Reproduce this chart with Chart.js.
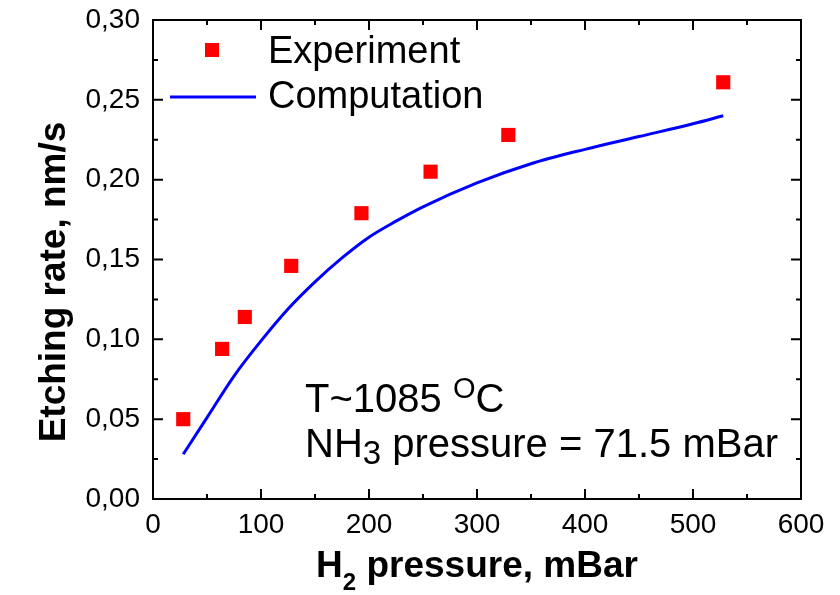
<!DOCTYPE html>
<html>
<head>
<meta charset="utf-8">
<script src="https://cdn.jsdelivr.net/npm/chart.js@4.4.1/dist/chart.umd.min.js"></script>
<style>
  html, body { margin: 0; padding: 0; background: #fff; }
  #wrap { width: 840px; height: 595px; position: relative; }
</style>
</head>
<body>
<div id="wrap"><canvas id="c" width="840" height="595"></canvas></div>
<script>
// ---- Data ----
const expPressure = [28, 64, 85, 128, 193, 257, 329, 528];
const expRate     = [0.050, 0.094, 0.114, 0.146, 0.179, 0.205, 0.228, 0.261];

const compPressure = [28, 50, 75, 100, 125, 150, 175, 200, 225, 250, 300, 350, 400, 450, 500, 528];
const compRate     = [0.028, 0.051, 0.077, 0.099, 0.119, 0.136, 0.151, 0.164, 0.174, 0.183, 0.198, 0.210, 0.219, 0.227, 0.235, 0.240];

const xTicks = [0, 100, 200, 300, 400, 500, 600];
const yTicks = [0.00, 0.05, 0.10, 0.15, 0.20, 0.25, 0.30];

const seriesLabels = ['Experiment', 'Computation'];
const xTitleMain = 'H';
const xTitleSub = '2';
const xTitleRest = ' pressure, mBar';
const yTitle = 'Etching rate, nm/s';
const annoLine1 = ['T~1085 ', 'O', 'C'];
const annoLine2 = ['NH', '3', ' pressure = 71.5 mBar'];

const FONT = '"Liberation Sans", Arial, Helvetica, sans-serif';

const toPts = (xs, ys) => xs.map((x, i) => ({ x, y: ys[i] }));

const framePlugin = {
  id: 'frame',
  afterDraw(chart) {
    const ctx = chart.ctx;
    const xs = chart.scales.x, ys = chart.scales.y;
    const L = xs.left, R = xs.right, T = ys.top, B = ys.bottom;
    ctx.save();
    ctx.strokeStyle = '#000';
    ctx.lineWidth = 2;
    ctx.strokeRect(L, T, R - L, B - T);
    // ticks (inward, all four sides)
    const major = 10, minor = 5;
    ctx.beginPath();
    for (let i = 0; i < xTicks.length; i++) {
      const px = xs.getPixelForValue(xTicks[i]);
      ctx.moveTo(px, B); ctx.lineTo(px, B - major);
      ctx.moveTo(px, T); ctx.lineTo(px, T + major);
      if (i < xTicks.length - 1) {
        const pm = xs.getPixelForValue((xTicks[i] + xTicks[i + 1]) / 2);
        ctx.moveTo(pm, B); ctx.lineTo(pm, B - minor);
        ctx.moveTo(pm, T); ctx.lineTo(pm, T + minor);
      }
    }
    for (let i = 0; i < yTicks.length; i++) {
      const py = ys.getPixelForValue(yTicks[i]);
      ctx.moveTo(L, py); ctx.lineTo(L + major, py);
      ctx.moveTo(R, py); ctx.lineTo(R - major, py);
      if (i < yTicks.length - 1) {
        const pm = ys.getPixelForValue((yTicks[i] + yTicks[i + 1]) / 2);
        ctx.moveTo(L, pm); ctx.lineTo(L + minor, pm);
        ctx.moveTo(R, pm); ctx.lineTo(R - minor, pm);
      }
    }
    ctx.stroke();

    ctx.textBaseline = 'alphabetic';

    // Legend
    const ds = chart.data.datasets;
    ctx.fillStyle = ds[0].backgroundColor;
    ctx.fillRect(205, 43, 14, 14);
    ctx.strokeStyle = ds[1].borderColor;
    ctx.lineWidth = 3;
    ctx.beginPath(); ctx.moveTo(170, 97); ctx.lineTo(256, 97); ctx.stroke();
    ctx.fillStyle = '#000';
    ctx.font = '38px ' + FONT;
    ctx.textAlign = 'left';
    ctx.fillText(ds[0].label, 268, 63);
    ctx.fillText(ds[1].label, 268, 108);

    // Annotation
    ctx.font = '40px ' + FONT;
    let x = 305;
    ctx.fillText(annoLine1[0], x, 412);
    x += ctx.measureText(annoLine1[0]).width;
    ctx.font = '29px ' + FONT;
    ctx.fillText(annoLine1[1], x, 398);
    x += ctx.measureText(annoLine1[1]).width;
    ctx.font = '40px ' + FONT;
    ctx.fillText(annoLine1[2], x, 412);

    x = 305;
    ctx.fillText(annoLine2[0], x, 457);
    x += ctx.measureText(annoLine2[0]).width;
    ctx.font = '33px ' + FONT;
    ctx.fillText(annoLine2[1], x, 464);
    x += ctx.measureText(annoLine2[1]).width;
    ctx.font = '40px ' + FONT;
    ctx.fillText(annoLine2[2], x, 457);

    // X title with subscript
    const bigF = 'bold 37px ' + FONT, subF = 'bold 24px ' + FONT;
    ctx.font = bigF; const w1 = ctx.measureText(xTitleMain).width; const w3 = ctx.measureText(xTitleRest).width;
    ctx.font = subF; const w2 = ctx.measureText(xTitleSub).width;
    const total = w1 + w2 + w3;
    x = (L + R) / 2 - total / 2;
    ctx.font = bigF; ctx.fillText(xTitleMain, x, 577);
    ctx.font = subF; ctx.fillText(xTitleSub, x + w1, 590);
    ctx.font = bigF; ctx.fillText(xTitleRest, x + w1 + w2, 577);

    // Y title
    ctx.save();
    ctx.translate(55, 282);
    ctx.rotate(-Math.PI / 2);
    ctx.font = 'bold 37px ' + FONT;
    ctx.textAlign = 'center';
    ctx.textBaseline = 'middle';
    ctx.fillText(yTitle, 0, 0);
    ctx.restore();

    ctx.restore();
  }
};

new Chart(document.getElementById('c'), {
  type: 'scatter',
  data: {
    datasets: [
      {
        label: seriesLabels[0],
        data: toPts(expPressure, expRate),
        backgroundColor: '#ff0000',
        borderColor: '#ff0000',
        borderWidth: 0,
        pointStyle: 'rect',
        pointRadius: 10,
        pointHoverRadius: 10,
        showLine: false,
        order: 0
      },
      {
        label: seriesLabels[1],
        data: toPts(compPressure, compRate),
        borderColor: '#0000ff',
        backgroundColor: '#0000ff',
        borderWidth: 3,
        pointRadius: 0,
        showLine: true,
        cubicInterpolationMode: 'monotone',
        order: 1
      }
    ]
  },
  options: {
    responsive: false,
    animation: false,
    devicePixelRatio: 1,
    layout: { padding: { top: 20, right: 39, left: 0, bottom: 0 } },
    plugins: { legend: { display: false }, tooltip: { enabled: false } },
    scales: {
      x: {
        type: 'linear', min: 0, max: 600,
        afterBuildTicks: (s) => { s.ticks = xTicks.map(v => ({ value: v })); },
        afterFit: (s) => { s.height = 96; s.paddingLeft = 0; s.paddingRight = 0; },
        grid: { display: false, drawTicks: false }, border: { display: false },
        ticks: { color: '#000', font: { family: FONT, size: 28 }, padding: 9, maxRotation: 0,
                 callback: (v) => String(v) }
      },
      y: {
        type: 'linear', min: 0, max: 0.30,
        afterBuildTicks: (s) => { s.ticks = yTicks.map(v => ({ value: v })); },
        afterFit: (s) => { s.width = 153; s.paddingTop = 0; s.paddingBottom = 0; },
        grid: { display: false, drawTicks: false }, border: { display: false },
        ticks: { color: '#000', font: { family: FONT, size: 28 }, padding: 13,
                 callback: (v) => Number(v).toFixed(2).replace('.', ',') }
      }
    }
  },
  plugins: [framePlugin]
});
</script>
</body>
</html>
